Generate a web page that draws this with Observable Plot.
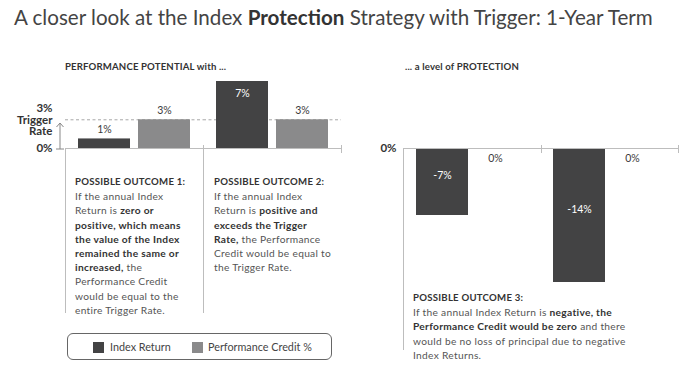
<!DOCTYPE html>
<html>
<head>
<meta charset="utf-8">
<script src="https://cdn.jsdelivr.net/npm/d3@7"></script>
<script src="https://cdn.jsdelivr.net/npm/@observablehq/plot@0.6"></script>
<style>
  html, body { margin: 0; padding: 0; background: #fff; }
  body { width: 700px; height: 385px; overflow: hidden; font-family: Lato, "Open Sans", sans-serif; color: #3a3a3a; }
  #wrap { position: relative; width: 700px; height: 385px; }
  .abs { position: absolute; }
  #title { left: 14px; top: 5px; font-size: 20.6px; font-weight: 400; color: #444; white-space: nowrap; }
  #title b { font-weight: 700; color: #333; }
  .sub { font-size: 9.6px; font-weight: 700; color: #333; white-space: nowrap; letter-spacing: 0.15px; }
  .block { border-left: 1px solid #bdbdbd; box-sizing: border-box; font-size: 10.2px; letter-spacing: 0.3px; line-height: 14.2px; color: #555; white-space: nowrap; padding-left: 9px; }
  .block .h { font-weight: 700; color: #333; font-size: 9.6px; letter-spacing: 0.25px; }
  .block b { font-weight: 700; color: #333; }
  #legend { left: 67px; top: 333px; width: 265px; height: 27px; box-sizing: border-box; border: 1px solid #666; border-radius: 6px; font-size: 10.8px; color: #444; }
  .sw { position: absolute; width: 11px; height: 11px; top: 8px; }
  .lt { position: absolute; top: 6px; white-space: nowrap; }
  svg { overflow: visible; }
</style>
</head>
<body>
<div id="wrap">
  <div id="title" class="abs">A closer look at the Index <b>Protection</b> Strategy with Trigger: 1-Year Term</div>
  <div class="abs sub" style="left:65px; top:61px;">PERFORMANCE POTENTIAL with ...</div>
  <div class="abs sub" style="left:405px; top:61px;">... a level of PROTECTION</div>

  <div class="abs block" style="left:65px; top:148px; width:138px; height:165px; padding-top:27px;">
    <div class="h">POSSIBLE OUTCOME 1:</div>
    If the annual Index<br>Return is <b>zero or</b><br><b>positive, which means</b><br><b>the value of the Index</b><br><b>remained the same or</b><br><b>increased,</b> the<br>Performance Credit<br>would be equal to the<br>entire Trigger Rate.
  </div>
  <div class="abs block" style="left:203px; top:148px; width:138px; height:165px; padding-top:27px; padding-left:10px;">
    <div class="h">POSSIBLE OUTCOME 2:</div>
    If the annual Index<br>Return is <b>positive and</b><br><b>exceeds the Trigger</b><br><b>Rate,</b> the Performance<br>Credit would be equal to<br>the Trigger Rate.
  </div>
  <div class="abs block" style="left:403px; top:148px; width:275px; height:202px; padding-top:143px;">
    <div class="h">POSSIBLE OUTCOME 3:</div>
    If the annual Index Return is <b>negative, the</b><br><b>Performance Credit would be zero</b> and there<br>would be no loss of principal due to negative<br>Index Returns.
  </div>

  <svg class="abs" style="left:0; top:0;" width="70" height="160">
    <line x1="60" y1="149" x2="60" y2="123" stroke="#888" stroke-width="1"/>
    <line x1="56" y1="149" x2="64" y2="149" stroke="#888" stroke-width="1"/>
    <polyline points="56.5,127 60,123 63.5,127" fill="none" stroke="#888" stroke-width="1"/>
  </svg>

  <div id="left" class="abs" style="left:0; top:0;"></div>
  <div id="right" class="abs" style="left:350px; top:0;"></div>

  <div id="legend" class="abs"></div>
</div>
<script>
// ---- data ----
const series = ["Index Return", "Performance Credit %"];
const seriesColors = ["#434344", "#8a8a8b"];
const triggerRate = 3;

const leftOutcomes = ["Outcome 1", "Outcome 2"];
const leftIndexReturn = [1, 7];
const leftPerfCredit = [3, 3];

const rightOutcomes = ["Outcome 3a", "Outcome 3b"];
const rightIndexReturn = [-7, -14];
const rightPerfCredit = [0, 0];

const FONT = "Lato, 'Open Sans', sans-serif";

function rowsFor(outcomes, idx, perf) {
  const rows = [];
  outcomes.forEach((o, i) => {
    rows.push({outcome: o, series: series[0], value: idx[i]});
    rows.push({outcome: o, series: series[1], value: perf[i]});
  });
  return rows;
}
const pct = v => `${v}%`;

function chart(rows, outcomes, opts) {
  const inside = rows.filter(d => Math.abs(d.value) >= 5);
  const above = rows.filter(d => d.value > 0 && d.value < 5);
  const zero = rows.filter(d => d.value === 0);
  const negInside = inside.filter(d => d.value < 0);
  const posInside = inside.filter(d => d.value > 0);
  return Plot.plot({
    width: 350,
    height: 300,
    marginLeft: opts.marginLeft,
    marginRight: opts.marginRight,
    marginTop: 145,
    marginBottom: 148,
    style: {fontFamily: FONT, fontSize: "10px", color: "#3a3a3a", background: "transparent", overflow: "visible"},
    fx: {domain: outcomes, padding: 0, axis: null},
    x: {domain: series, paddingInner: 0.13, paddingOuter: 0.2, axis: null},
    y: {domain: [0, 7], range: [148, 81]},
    color: {domain: series, range: seriesColors},
    marks: [
      opts.trigger ? Plot.ruleY([triggerRate], {stroke: "#a8a8a8", strokeDasharray: "3,2.5"}) : null,
      Plot.barY(rows, {fx: "outcome", x: "series", y: "value", fill: "series"}),
      Plot.ruleY([0], {stroke: "#bdbdbd"}),
      Plot.frame({anchor: "right", stroke: "#bdbdbd"}),
      Plot.text(above, {fx: "outcome", x: "series", y: "value", text: d => pct(d.value), dy: -9, fill: "#3a3a3a", fontSize: 10.5}),
      Plot.text(posInside, {fx: "outcome", x: "series", y: "value", text: d => pct(d.value), dy: 12, fill: "white", fontSize: 10.5}),
      Plot.text(negInside, {fx: "outcome", x: "series", y: d => d.value / 2, text: d => pct(d.value), dy: -6, fill: "white", fontSize: 10.5}),
      Plot.text(zero, {fx: "outcome", x: "series", y: "value", text: d => pct(d.value), dy: 10, dx: -7, fill: "#3a3a3a", fontSize: 10.5}),
      Plot.axisY({
        ticks: opts.ticks,
        tickFormat: d => d === triggerRate ? "3%\nTrigger\nRate" : pct(d),
        tickSize: 0,
        tickPadding: opts.tickPadding,
        fontWeight: "bold",
        fontSize: 11.5,
        fill: "#333",
        lineHeight: 1.03,
        anchor: "left",
        label: null
      })
    ]
  });
}

document.getElementById("left").append(
  chart(rowsFor(leftOutcomes, leftIndexReturn, leftPerfCredit), leftOutcomes,
        {marginLeft: 65, marginRight: 9, trigger: true, ticks: [0, triggerRate], tickPadding: 13})
);
document.getElementById("right").append(
  chart(rowsFor(rightOutcomes, rightIndexReturn, rightPerfCredit), rightOutcomes,
        {marginLeft: 53, marginRight: 22, trigger: false, ticks: [0], tickPadding: 8})
);

// legend
const legend = document.getElementById("legend");
const legendX = [[25, 42], [124, 140]];
series.forEach((s, i) => {
  const sw = document.createElement("div");
  sw.className = "sw";
  sw.style.left = legendX[i][0] + "px";
  sw.style.background = seriesColors[i];
  legend.append(sw);
  const t = document.createElement("div");
  t.className = "lt";
  t.style.left = legendX[i][1] + "px";
  t.textContent = s;
  legend.append(t);
});
</script>
</body>
</html>
